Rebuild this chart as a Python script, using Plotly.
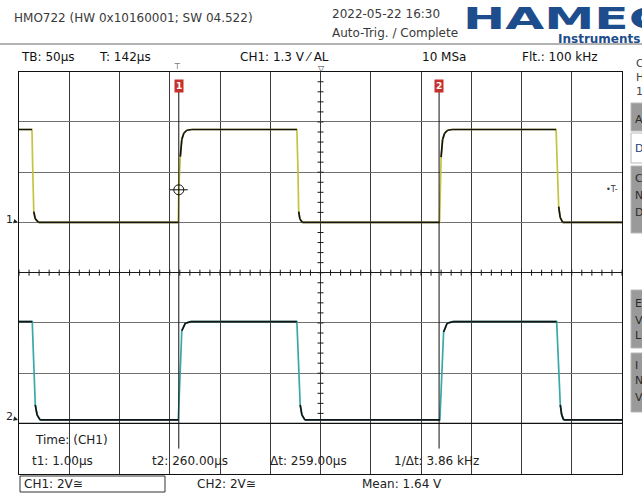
import plotly.graph_objects as go

# ---------------- data ----------------
# time in microseconds, voltage in volts
ch1_t = [-158, -145.1, -144.3, -143.3, -141.8, -138.5,
         0.5, 1.0, 2.5, 4.0, 6.0, 9.0, 14.0,
         118.5, 119.5, 120.3, 121.5, 124.0,
         260.5, 261.0, 262.0, 263.5, 265.5, 268.5, 273.0,
         376.4, 377.5, 379.0, 380.5, 383.0, 442]
ch1_v = [3.70, 3.70, 2.09, 0.43, 0.14, 0.0,
         0.0, 1.30, 2.62, 3.30, 3.55, 3.67, 3.70,
         3.70, 2.20, 0.43, 0.14, 0.0,
         0.0, 1.30, 2.60, 3.30, 3.55, 3.67, 3.70,
         3.70, 2.40, 0.63, 0.20, 0.0, 0.0]

ch2_t = [-158, -144.8, -144.0, -143.0, -141.8, -140.0, -137.0,
         0.5, 1.5, 2.5, 4.0, 7.5, 13.0,
         118.5, 119.5, 120.5, 121.8, 123.5, 126.5,
         260.8, 261.8, 262.5, 264.5, 268.0, 274.0,
         377.0, 378.9, 380.6, 382.0, 384.0, 442]
ch2_v = [3.91, 3.91, 2.98, 1.59, 0.60, 0.20, 0.0,
         0.0, 0.95, 2.20, 3.55, 3.85, 3.91,
         3.91, 3.00, 1.60, 0.60, 0.20, 0.0,
         0.0, 1.00, 2.20, 3.50, 3.85, 3.91,
         3.91, 1.87, 0.60, 0.20, 0.0, 0.0]

volts_per_div = [2.0, 2.0]          # CH1, CH2
ground_div = [1.0, -2.93]           # ground marker positions (divisions)
cursor_t = [1.0, 260.0]             # t1, t2 in µs
cursor_labels = ["1", "2"]
trigger_level_v = 1.3
time_center = 142.0                 # T: 142 µs
time_per_div = 50.0
n_xdiv, n_ydiv = 12, 8

header_left = "HMO722 (HW 0x10160001; SW 04.522)"
header_date = "2022-05-22 16:30"
header_status = "Auto-Trig. / Complete"
row_labels = [("TB: 50µs", 19), ("T: 142µs", 97), ("CH1: 1.3 V ⁄ AL", 238),
              ("10 MSa", 420), ("Flt.: 100 kHz", 520)]
meas_labels = [("t1: 1.00µs", 30), ("t2: 260.00µs", 150), ("Δt: 259.00µs", 268),
               ("1/Δt: 3.86 kHz", 392)]
bottom_labels = [("CH1: 2V≅", 22), ("CH2: 2V≅", 195), ("Mean: 1.64 V", 360)]

# ---------------- layout helpers ----------------
W, H = 642, 493
GX0, GX1, GY0, GY1 = 19, 622, 71.7, 473.7


def px(x):
    return x / W


def py(y):
    return 1 - y / H


x_lo = time_center - time_per_div * n_xdiv / 2
x_hi = time_center + time_per_div * n_xdiv / 2
us_per_px = (x_hi - x_lo) / (GX1 - GX0)
div_per_px = n_ydiv / (GY1 - GY0)

fig = go.Figure()

colors = ["#c4c440", "#3aa8a8"]
for t, v, vpd, g, col in [(ch1_t, ch1_v, volts_per_div[0], ground_div[0], colors[0]),
                          (ch2_t, ch2_v, volts_per_div[1], ground_div[1], colors[1])]:
    yd = [vv / vpd + g for vv in v]
    fig.add_trace(go.Scatter(x=t, y=yd, mode="lines", line=dict(color=col, width=1.7),
                             hoverinfo="skip", showlegend=False))
    bx, by = [], []
    for i in range(len(t) - 1):
        slope = abs(v[i + 1] - v[i]) / (t[i + 1] - t[i])
        if slope < 0.5:
            bx += [t[i], t[i + 1], None]
            by += [yd[i], yd[i + 1], None]
    fig.add_trace(go.Scatter(x=bx, y=by, mode="lines", line=dict(color="#141414", width=1.7),
                             hoverinfo="skip", showlegend=False))

shapes = []
ann = []

# center lines + ticks
shapes.append(dict(type="line", xref="x", yref="y", x0=time_center, x1=time_center, y0=-4, y1=4,
                   line=dict(color="#1a1a1a", width=1), layer="below"))
tick_t = x_lo
while tick_t <= x_hi + 1e-6:
    shapes.append(dict(type="line", xref="x", yref="y", x0=tick_t, x1=tick_t,
                       y0=-3 * div_per_px, y1=3 * div_per_px, line=dict(color="#1a1a1a", width=1)))
    tick_t += time_per_div / 5
k = -4 * 5
while k <= 4 * 5:
    yv = k / 5
    if -3 < yv < 4:
        shapes.append(dict(type="line", xref="x", yref="y", x0=time_center - 3 * us_per_px,
                           x1=time_center + 3 * us_per_px, y0=yv, y1=yv,
                           line=dict(color="#1a1a1a", width=1)))
    k += 1

# measurement box top line
shapes.append(dict(type="line", xref="x", yref="y", x0=x_lo, x1=x_hi, y0=-3, y1=-3,
                   line=dict(color="#111", width=1.2)))

# cursors
for ct, lab in zip(cursor_t, cursor_labels):
    shapes.append(dict(type="line", xref="x", yref="y", x0=ct, x1=ct, y0=-3.5, y1=3.6,
                       line=dict(color="#111", width=1)))
    ann.append(dict(xref="x", yref="paper", x=ct, y=py(86), text="<b>" + lab + "</b>",
                    showarrow=False, font=dict(family="DejaVu Sans", size=9, color="white"),
                    bgcolor="#c8302c", borderpad=1, xanchor="center", yanchor="middle"))

# crosshair at t1 / trigger level on CH1
cy = trigger_level_v / volts_per_div[0] + ground_div[0]
ct = cursor_t[0]
shapes.append(dict(type="circle", xref="x", yref="y", x0=ct - 5 * us_per_px, x1=ct + 5 * us_per_px,
                   y0=cy - 5 * div_per_px, y1=cy + 5 * div_per_px, line=dict(color="#111", width=1)))
shapes.append(dict(type="line", xref="x", yref="y", x0=ct - 9 * us_per_px, x1=ct + 9 * us_per_px,
                   y0=cy, y1=cy, line=dict(color="#111", width=1)))
ann.append(dict(xref="paper", yref="y", x=px(612), y=cy, text="•T-", showarrow=False,
                font=dict(family="DejaVu Sans", size=8, color="#333"), xanchor="center",
                yanchor="middle"))

# ground markers
for i, g in enumerate(ground_div):
    ann.append(dict(xref="paper", yref="y", x=px(18), y=g, text=str(i + 1), showarrow=True,
                    ax=-9, ay=-3, arrowhead=2, arrowsize=0.9, arrowwidth=1, arrowcolor="#222",
                    font=dict(family="DejaVu Sans", size=11, color="#222")))


def txt(s, x, y, size=12, color="#222", anchor="left", family="DejaVu Sans"):
    ann.append(dict(xref="paper", yref="paper", x=px(x), y=py(y), text=s, showarrow=False,
                    xanchor=anchor, yanchor="middle", font=dict(family=family, size=size, color=color)))


# header
txt(header_left, 12, 18, color="#3a3a3a")
txt(header_date, 330, 14, color="#3a3a3a")
txt(header_status, 330, 33, color="#3a3a3a")
shapes.append(dict(type="line", xref="paper", yref="paper", x0=0, x1=1, y0=py(44), y1=py(44),
                   line=dict(color="#666", width=1)))
for s, x in row_labels:
    txt(s, x, 57, color="#111")
txt("⊤", 177.5, 67, size=8, color="#333", anchor="center")
txt("▽", 321, 68, size=8, color="#333", anchor="center")

# logo
ann.append(dict(xref="paper", yref="paper", x=px(461), y=py(19), text="HAMEG", showarrow=False,
                xanchor="left", yanchor="middle",
                font=dict(family="DejaVu Sans", size=30, color="#1d4d8c", weight="bold")))
txt("<b>Instruments</b>", 556, 39, size=12, color="#1d4d8c")

# right soft-key panel
for s, y in [("C", 63), ("H", 78), ("1", 92)]:
    txt(s, 634, y, size=11, color="#444")
for y0, y1, fill in [(103, 131, "#9a9a9a"), (133, 163, "white"), (166, 233, "#9a9a9a"),
                     (290, 348, "#9a9a9a"), (353, 412, "#9a9a9a")]:
    shapes.append(dict(type="rect", xref="paper", yref="paper", x0=px(631), x1=px(660),
                       y0=py(y1), y1=py(y0), fillcolor=fill,
                       line=dict(color="#b8b8b8", width=1), layer="below"))
for s, y in [("A", 119), ("C", 178), ("N", 195), ("D", 212), ("E", 303), ("V", 320), ("L", 335),
             ("I", 365), ("N", 380), ("V", 397)]:
    txt(s, 633, y, size=11, color="#2a2a2a")
txt("D", 633, 148, size=11, color="#1a3a7a")

# measurement box
txt("Time: (CH1)", 33, 440)
for s, x in meas_labels:
    txt(s, x, 461)
shapes.append(dict(type="rect", xref="paper", yref="paper", x0=px(20), x1=px(165),
                   y0=py(492), y1=py(476), line=dict(color="#333", width=1)))
for s, x in bottom_labels:
    txt(s, x, 484)

fig.update_layout(
    width=W, height=H, margin=dict(l=0, r=0, t=0, b=0),
    paper_bgcolor="white", plot_bgcolor="white", showlegend=False,
    shapes=shapes, annotations=ann,
    xaxis=dict(domain=[px(GX0), px(GX1)], range=[x_lo, x_hi], tick0=x_lo, dtick=time_per_div,
               showgrid=True, gridcolor="#3c3c3c", gridwidth=1, showticklabels=False, ticks="",
               zeroline=False, showline=True, linecolor="#111", linewidth=1, mirror=True,
               fixedrange=True),
    yaxis=dict(domain=[py(GY1), py(GY0)], range=[-n_ydiv / 2, n_ydiv / 2], dtick=1,
               showgrid=True, gridcolor="#707070", gridwidth=1, showticklabels=False, ticks="",
               zeroline=True, zerolinecolor="#1a1a1a", zerolinewidth=1, showline=True,
               linecolor="#111", linewidth=1, mirror=True, fixedrange=True),
)

post = """
document.documentElement.style.margin = '0';
document.documentElement.style.overflow = 'hidden';
document.body.style.margin = '0';
document.body.style.padding = '0';
document.querySelectorAll('text.annotation-text').forEach(function(e){
  if (e.textContent === 'HAMEG') {
    e.style.transformBox = 'fill-box';
    e.style.transformOrigin = 'left center';
    e.style.transform = 'scaleX(1.68)';
  }
});
"""
fig.write_html("out.html", post_script=post, config={"displayModeBar": False})
